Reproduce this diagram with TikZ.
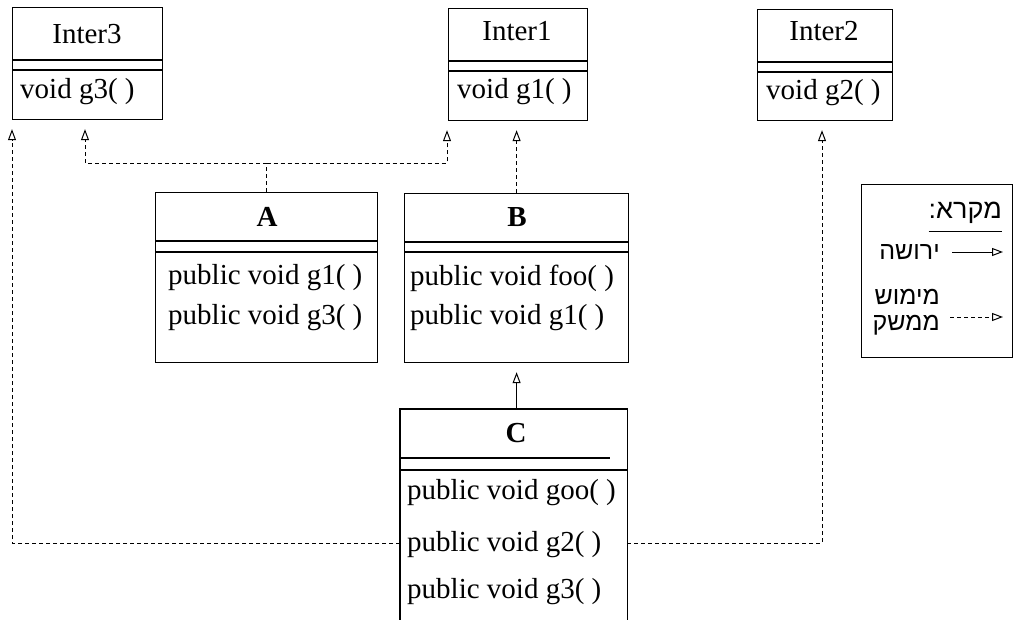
\documentclass[tikz,border=0pt]{standalone}
\usepackage{fontspec}
\setmainfont{Liberation Serif}
\newfontfamily\hebfont[Script=Hebrew]{Liberation Sans}
\TeXXeTstate=1
\usetikzlibrary{arrows.meta}
\begin{document}
\begin{tikzpicture}[x=1pt,y=-1pt,
  box/.style={draw, line width=1.2pt, inner sep=0pt, anchor=north west},
  sepline/.style={line width=1.2pt},
  txt/.style={inner sep=0pt, font=\fontsize{29}{34}\selectfont},
  ttl/.style={txt, anchor=center},
  mth/.style={txt, anchor=west},
  heb/.style={inner sep=0pt, anchor=east, font=\hebfont\fontsize{25}{29}\selectfont},
  hollow/.style={-{Triangle[open,length=11pt,width=8pt,line width=1pt]}},
  implements/.style={line width=0.9pt, dash pattern=on 4pt off 3pt, hollow, shorten >=9pt},
  implink/.style={line width=0.9pt, dash pattern=on 4pt off 3pt},
  inherits/.style={line width=0.9pt, hollow, shorten >=9pt}
]
\useasboundingbox (0,0) rectangle (1015,620);

% ---------- interfaces ----------
\node[box, minimum width=150pt, minimum height=112pt] (i3) at (12,7) {};
\draw[sepline] (i3.west |- 0,60) -- (i3.east |- 0,60);
\draw[sepline] (i3.west |- 0,70) -- (i3.east |- 0,70);
\node[ttl] (i3t) at (87,34) {Inter3};
\node[mth] (i3m) at (20,92) {void g3( )};

\node[box, minimum width=139pt, minimum height=112pt] (i1) at (448,8) {};
\draw[sepline] (i1.west |- 0,61) -- (i1.east |- 0,61);
\draw[sepline] (i1.west |- 0,71) -- (i1.east |- 0,71);
\node[ttl] (i1t) at (517,31) {Inter1};
\node[mth] (i1m) at (457,92) {void g1( )};

\node[box, minimum width=135pt, minimum height=111pt] (i2) at (757,9) {};
\draw[sepline] (i2.west |- 0,62) -- (i2.east |- 0,62);
\draw[sepline] (i2.west |- 0,72) -- (i2.east |- 0,72);
\node[ttl] (i2t) at (824,31) {Inter2};
\node[mth] (i2m) at (766,93) {void g2( )};

% ---------- classes ----------
\node[box, minimum width=222pt, minimum height=170pt] (a) at (155,192) {};
\draw[sepline] (a.west |- 0,241) -- (a.east |- 0,241);
\draw[sepline] (a.west |- 0,252) -- (a.east |- 0,252);
\node[ttl, font=\fontsize{29}{34}\selectfont\bfseries] (at) at (267,217) {A};
\node[mth] (am1) at (168,278) {public void g1( )};
\node[mth] (am2) at (168,318) {public void g3( )};

\node[box, minimum width=224pt, minimum height=169pt] (b) at (404,193) {};
\draw[sepline] (b.west |- 0,242) -- (b.east |- 0,242);
\draw[sepline] (b.west |- 0,252) -- (b.east |- 0,252);
\node[ttl, font=\fontsize{29}{34}\selectfont\bfseries] (bt) at (517,217) {B};
\node[mth] (bm1) at (410,278) {public void foo( )};
\node[mth] (bm2) at (410,318) {public void g1( )};

\node[inner sep=0pt, anchor=north west, minimum width=227pt, minimum height=212pt] (c) at (400,409) {};
\draw[sepline] (c.south west) -- (c.north west) -- (c.north east) -- (c.south east);
\draw[sepline] (c.west |- 0,458) -- (610,458);
\draw[sepline] (c.west |- 0,470) -- (c.east |- 0,470);
\node[ttl, font=\fontsize{29}{34}\selectfont\bfseries] (ct) at (516,433) {C};
\node[mth] (cm1) at (407,493) {public void goo( )};
\node[mth] (cm2) at (407,545) {public void g2( )};
\node[mth] (cm3) at (407,592) {public void g3( )};

% ---------- relations ----------
\coordinate (j3) at (85,163);
\coordinate (j1) at (447,163);
\draw[implink] (a.north) -- (a.north |- j3);
\draw[implements] (a.north |- j3) -- (j3) -- (j3 |- i3.south);
\draw[implements] (a.north |- j1) -- (j1) -- (j1 |- i1.south);

\draw[implements] (b.north) -- (b.north |- i1.south);
\draw[inherits] (c.north -| b.south) -- (b.south);

\coordinate (cl) at (12,543);
\coordinate (cr) at (822,543);
\draw[implements] (c.west |- cl) -- (cl) -- (cl |- i3.south);
\draw[implements] (c.east |- cr) -- (cr) -- (cr |- i2.south);

% ---------- legend ----------
\node[box, line width=1.1pt, minimum width=151pt, minimum height=173pt] (lg) at (861,184) {};
\node[heb, font=\hebfont\fontsize{27}{31}\selectfont] (lt) at (1002,213) {\beginR מקרא:\endR};
\draw[line width=1pt] (lt.west |- 0,232) -- (lt.east |- 0,232);
\node[heb] (l1) at (940,252) {\beginR ירושה\endR};
\node[heb] (l2a) at (940,297) {\beginR מימוש\endR};
\node[heb] (l2b) at (940,325) {\beginR ממשק\endR};
\coordinate (s1) at (952,252);
\coordinate (e1) at (1003,252);
\coordinate (s2) at (950,317);
\coordinate (e2) at (1003,317);
\draw[line width=0.9pt, hollow] (s1) -- (e1);
\draw[implink, hollow] (s2) -- (e2);
\end{tikzpicture}
\end{document}
